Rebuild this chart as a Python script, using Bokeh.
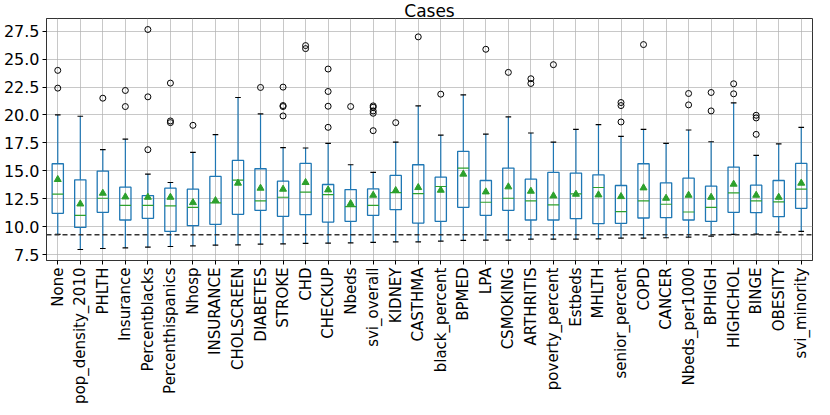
import math
from bokeh.plotting import figure
from bokeh.models import ColumnDataSource, FixedTicker, PrintfTickFormatter, Span, Range1d
from bokeh.embed import file_html
from bokeh.resources import INLINE

title_text = "Cases"
categories = ["None", "pop_density_2010", "PHLTH", "Insurance", "Percentblacks",
              "Percenthispanics", "Nhosp", "INSURANCE", "CHOLSCREEN", "DIABETES",
              "STROKE", "CHD", "CHECKUP", "Nbeds", "svi_overall", "KIDNEY", "CASTHMA",
              "black_percent", "BPMED", "LPA", "CSMOKING", "ARTHRITIS", "poverty_percent",
              "Estbeds", "MHLTH", "senior_percent", "COPD", "CANCER", "Nbeds_per1000",
              "BPHIGH", "HIGHCHOL", "BINGE", "OBESITY", "svi_minority"]
whisker_low = [9.30, 7.95, 8.04, 8.10, 8.16, 8.22, 8.28, 8.34, 8.37, 8.43, 8.46, 8.49,
               8.52, 8.55, 8.58, 8.64, 8.64, 8.70, 8.76, 8.79, 8.79, 8.88, 8.88, 8.88,
               8.91, 8.97, 8.97, 9.00, 9.06, 9.15, 9.30, 9.33, 9.51, 9.57]
q1 = [11.19, 9.93, 11.28, 10.59, 10.74, 9.57, 10.08, 10.20, 11.10, 11.46, 10.92, 11.07,
      10.41, 10.47, 11.01, 11.52, 10.32, 10.47, 11.73, 11.01, 11.46, 10.59, 10.59, 10.71,
      10.26, 10.29, 10.77, 10.80, 10.59, 10.47, 11.28, 11.25, 10.89, 11.64]
median = [12.90, 11.01, 12.54, 11.91, 11.91, 11.85, 11.73, 12.12, 14.16, 12.30, 12.63, 13.08,
          12.87, 11.79, 11.91, 13.05, 12.96, 13.59, 15.24, 12.18, 12.54, 12.30, 11.94, 12.93,
          13.50, 11.34, 12.30, 12.00, 11.31, 11.73, 13.02, 12.30, 12.21, 13.35]
q3 = [15.63, 14.19, 14.97, 13.53, 12.78, 13.44, 13.35, 14.49, 15.93, 15.18, 14.07, 15.66,
      13.77, 13.32, 13.38, 14.58, 15.54, 14.43, 16.74, 14.13, 15.24, 14.25, 14.85, 14.79,
      14.64, 13.68, 15.63, 13.92, 14.34, 13.62, 15.33, 13.71, 14.13, 15.66]
whisker_high = [20.00, 19.88, 16.89, 17.84, 14.70, 13.95, 16.65, 18.23, 21.56, 20.09, 17.07, 17.04,
                17.46, 15.54, 14.85, 17.57, 20.81, 18.20, 21.80, 18.29, 19.82, 18.38, 17.57, 18.71,
                19.13, 18.08, 18.71, 17.46, 18.65, 17.60, 21.08, 16.38, 17.40, 18.89]
means = [14.22, 12.03, 12.99, 12.66, 12.63, 12.63, 12.15, 12.33, 13.89, 13.44, 13.35, 13.95,
         13.29, 12.06, 12.81, 13.23, 13.50, 13.26, 14.70, 13.11, 13.56, 13.17, 12.75, 12.90,
         12.84, 12.69, 13.47, 12.54, 12.81, 12.63, 13.80, 12.81, 12.63, 13.89]
outliers = [[23.99, 22.40], [], [21.50], [22.19, 20.75], [27.65, 21.62, 16.89],
            [22.85, 19.46, 19.31], [19.07], [], [], [22.46],
            [22.49, 20.84, 20.75, 19.91], [26.21, 25.94], [24.11, 22.10, 20.78, 18.89],
            [20.75], [20.81, 20.69, 20.36, 20.15, 18.59], [19.31], [26.99], [21.86], [],
            [25.88], [23.81], [23.24, 22.82], [24.50], [], [], [21.11, 20.84, 19.37],
            [26.30], [], [21.92, 20.90], [22.01, 20.36], [22.79, 21.89],
            [19.97, 19.73, 18.26], [], []]
y_ticks = [7.5, 10.0, 12.5, 15.0, 17.5, 20.0, 22.5, 25.0, 27.5]
reference_level = 9.27

n = len(categories)
pos = list(range(1, n + 1))
half = 0.25
capw = 0.125

all_out = [v for lst in outliers for v in lst]
dmin = min(whisker_low + all_out)
dmax = max(whisker_high + all_out)
pad = 0.05 * (dmax - dmin)

p = figure(width=814, height=406, output_backend="svg", toolbar_location=None,
           x_range=Range1d(0.5, n + 0.5), y_range=Range1d(dmin - pad, dmax + pad),
           title=title_text, min_border_left=4, min_border_right=2,
           min_border_top=0, min_border_bottom=0)

p.title.align = "center"
p.title.text_font = "DejaVu Sans"
p.title.text_font_size = "17px"
p.title.text_font_style = "normal"
p.title.text_color = "black"
p.title.standoff = -4

src = ColumnDataSource(dict(x=pos, lo=whisker_low, q1=q1, med=median, q3=q3, hi=whisker_high,
                            mean=means,
                            left=[x - half for x in pos], right=[x + half for x in pos],
                            cl=[x - capw for x in pos], cr=[x + capw for x in pos]))

blue = "#1f77b4"
green = "#2ca02c"

p.segment(x0="x", y0="q3", x1="x", y1="hi", source=src, line_color=blue, line_width=1.2)
p.segment(x0="x", y0="q1", x1="x", y1="lo", source=src, line_color=blue, line_width=1.2)
p.segment(x0="cl", y0="hi", x1="cr", y1="hi", source=src, line_color="black", line_width=1.2)
p.segment(x0="cl", y0="lo", x1="cr", y1="lo", source=src, line_color="black", line_width=1.2)
p.quad(left="left", right="right", bottom="q1", top="q3", source=src,
       fill_color=None, line_color=blue, line_width=1.3)
p.segment(x0="left", y0="med", x1="right", y1="med", source=src, line_color=green, line_width=1.2)
p.scatter(x="x", y="mean", source=src, marker="triangle", size=7,
          fill_color=green, line_color=green)

ox = [pos[i] for i, lst in enumerate(outliers) for _ in lst]
oy = all_out
p.scatter(x=ox, y=oy, marker="circle", size=6, fill_color=None, line_color="black", line_width=1)

p.add_layout(Span(location=reference_level, dimension="width", line_color="#333333",
                  line_dash="5 3", line_width=1.3))

p.xaxis.ticker = FixedTicker(ticks=pos)
p.xaxis.major_label_overrides = {x: c for x, c in zip(pos, categories)}
p.xaxis.major_label_orientation = math.pi / 2
p.yaxis.ticker = FixedTicker(ticks=y_ticks)
p.yaxis.formatter = PrintfTickFormatter(format="%.1f")

for ax in (p.xaxis[0], p.yaxis[0]):
    ax.major_label_text_font = "DejaVu Sans"
    ax.major_label_text_font_size = "15px"
    ax.major_label_text_color = "black"
    ax.major_tick_out = 4
    ax.major_tick_in = 0
    ax.major_tick_line_color = "black"
    ax.minor_tick_line_color = None
    ax.axis_line_color = "#333333"
    ax.major_label_standoff = 3
p.yaxis[0].major_label_text_font_size = "16px"

p.grid.grid_line_color = "#b0b0b0"
p.grid.grid_line_alpha = 0.7
p.outline_line_color = "#333333"
p.outline_line_width = 1
p.outline_line_alpha = 1

open("out.html", "w").write(file_html(p, INLINE))
